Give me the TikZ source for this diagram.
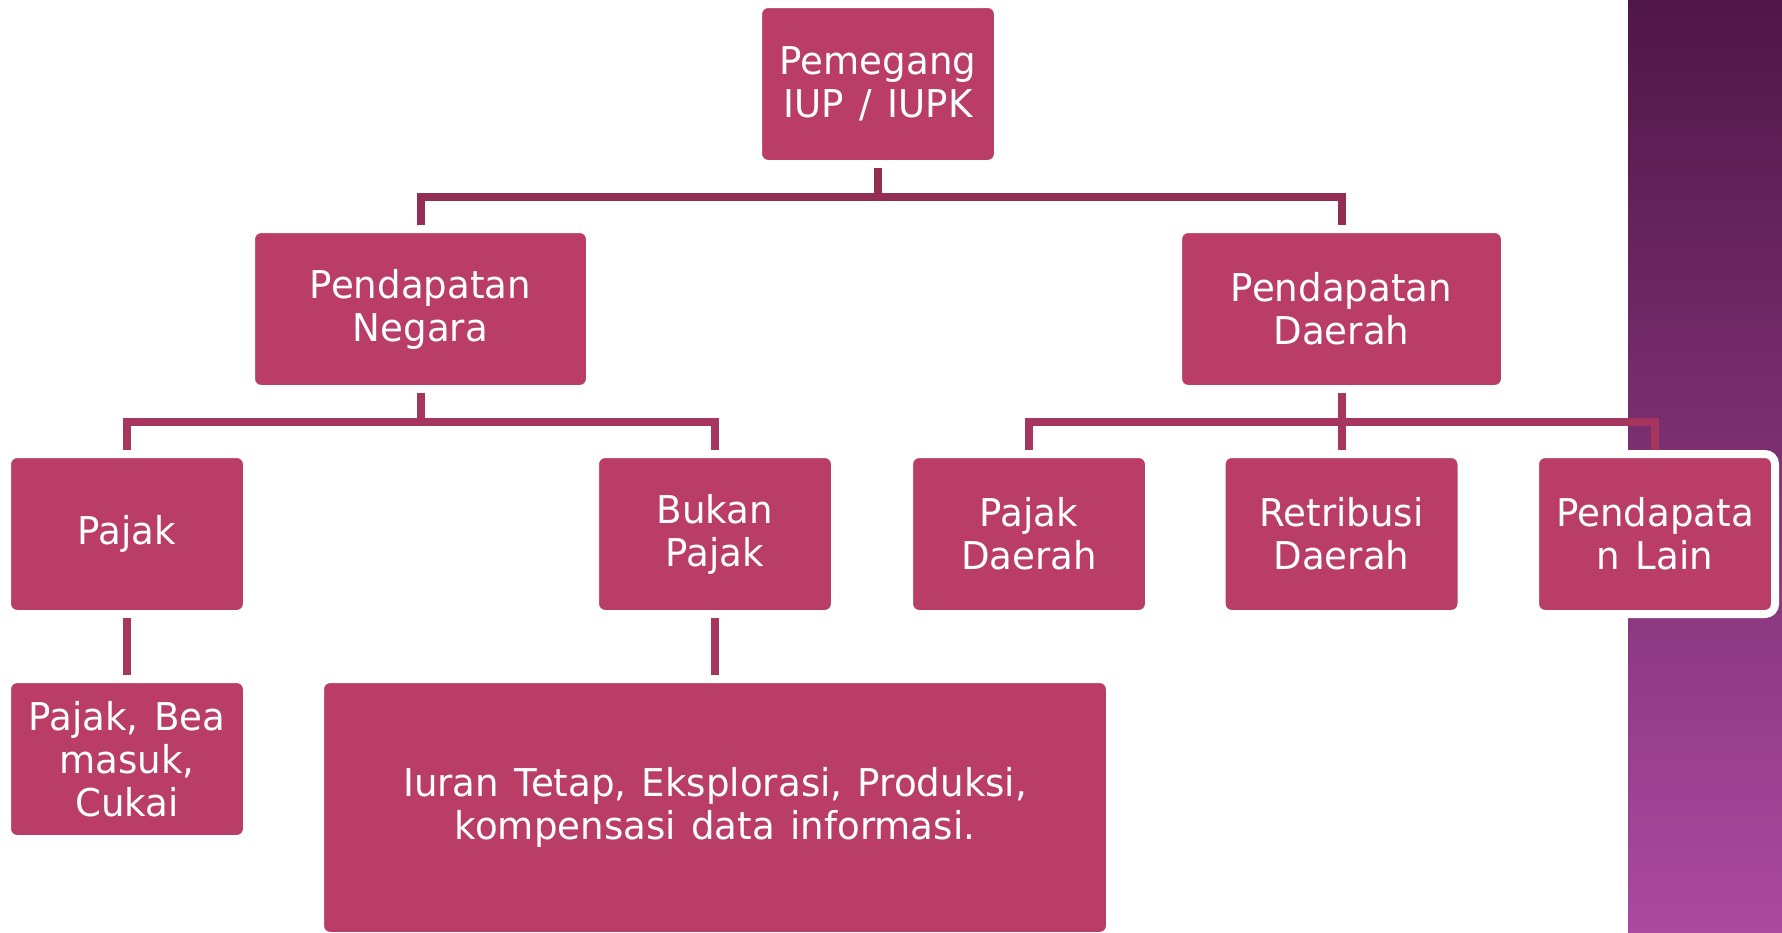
\documentclass[tikz,border=0pt]{standalone}
\usepackage{fontspec}
\setmainfont{DejaVu Sans}[FakeStretch=0.97, WordSpace=1.3]

\definecolor{boxfill}{HTML}{B93D67}
\definecolor{linetop}{HTML}{932D51}
\definecolor{linemid}{HTML}{A6365D}
\definecolor{paneltop}{HTML}{4F1747}
\definecolor{panelbottom}{HTML}{AB4A9F}

\begin{document}
\begin{tikzpicture}[
	box/.style = {fill = boxfill, draw = white, line width = 0.8mm, rounded corners = 1mm,
		text = white, align = center, inner sep = 0,
		minimum width = 2.40cm, minimum height = 1.60cm,
		font = \fontsize{10.9}{12.2}\selectfont},
	link/.style = {line width = 0.8mm, linemid}
]
	
	\useasboundingbox (0, 0) rectangle (17.82, -9.32);
	\fill [white] (0, 0) rectangle (17.82, -9.32);
	\shade [top color = paneltop, bottom color = panelbottom] (16.28, 0) rectangle (17.82, -9.32);
	
	\node [box] (root) at (8.78, -0.84) {Pemegang\\IUP / IUPK};
	
	\node [box, minimum width = 3.39cm] (negara) at (4.205, -3.09) {Pendapatan\\Negara};
	\node [box, minimum width = 3.27cm] (daerah) at (13.415, -3.09) {Pendapatan\\Daerah};
	
	\node [box] (pajak) at (1.27, -5.34) {Pajak};
	\node [box] (bukan) at (7.15, -5.34) {Bukan\\Pajak};
	\node [box] (pjdaerah) at (10.29, -5.34) {Pajak\\Daerah};
	\node [box] (retribusi) at (13.415, -5.34) {Retribusi\\Daerah};
	\node [box] (lain) at (16.55, -5.34) {Pendapata\\n Lain};
	
	\node [box] (bea) at (1.27, -7.59) {Pajak, Bea\\masuk,\\Cukai};
	\node [box, minimum width = 7.90cm, minimum height = 2.57cm] (iuran) at (7.15, -8.075)
		{Iuran Tetap, Eksplorasi, Produksi,\\kompensasi data informasi.};
	
	\coordinate (bar1) at (0, -1.965);
	\coordinate (bar2) at (0, -4.215);
	
	\begin{scope}[link]
		
		\draw [linetop] (root.south) -- (root.south |- bar1) -| (negara.north);
		\draw [linetop] (root.south |- bar1) -| (daerah.north);
		
		\draw (negara.south) -- (negara.south |- bar2) -| (pajak.north);
		\draw (negara.south |- bar2) -| (bukan.north);
		
		\draw (daerah.south) -- (retribusi.north);
		\draw (daerah.south |- bar2) -| (pjdaerah.north);
		\draw (daerah.south |- bar2) -| (lain.north);
		
		\draw (pajak.south) -- (bea.north);
		\draw (bukan.south) -- (iuran.north);
		
	\end{scope}

\end{tikzpicture}
\end{document}
